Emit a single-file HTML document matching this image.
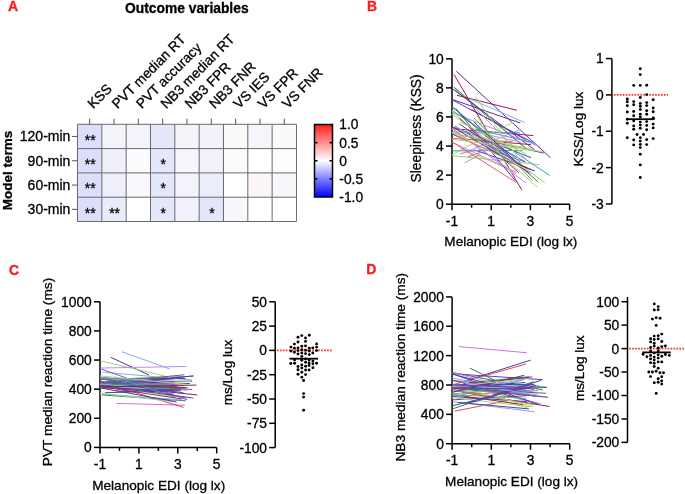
<!DOCTYPE html>
<html><head><meta charset="utf-8"><style>
html,body{margin:0;padding:0;background:#fff;width:685px;height:494px;overflow:hidden}
svg{display:block;will-change:transform;filter:blur(0.3px)}
text{font-family:"Liberation Sans", sans-serif}
</style></head><body>
<svg width="685" height="494" viewBox="0 0 685 494" font-family='"Liberation Sans", sans-serif'><text x="7.90" y="11.10" font-size="14" font-weight="bold" fill="#ff1a1a" stroke="#ff1a1a" stroke-width="0.3">A</text>
<text x="125.10" y="13.10" font-size="13.8" font-weight="bold" stroke="#000" stroke-width="0.3">Outcome variables</text>
<rect x="77.50" y="124.30" width="24.33" height="24.30" fill="#dcdff9"/>
<rect x="101.83" y="124.30" width="24.33" height="24.30" fill="#f4f4fb"/>
<rect x="126.16" y="124.30" width="24.33" height="24.30" fill="#f2f3fb"/>
<rect x="150.49" y="124.30" width="24.33" height="24.30" fill="#e6e8fa"/>
<rect x="174.82" y="124.30" width="24.33" height="24.30" fill="#f4f4fb"/>
<rect x="199.15" y="124.30" width="24.33" height="24.30" fill="#f1f2fb"/>
<rect x="223.48" y="124.30" width="24.33" height="24.30" fill="#fbf8f9"/>
<rect x="247.81" y="124.30" width="24.33" height="24.30" fill="#f5f5fb"/>
<rect x="272.14" y="124.30" width="24.33" height="24.30" fill="#fafafd"/>
<rect x="77.50" y="148.60" width="24.33" height="24.30" fill="#dcdff9"/>
<rect x="101.83" y="148.60" width="24.33" height="24.30" fill="#eff0fa"/>
<rect x="126.16" y="148.60" width="24.33" height="24.30" fill="#fcfcfe"/>
<rect x="150.49" y="148.60" width="24.33" height="24.30" fill="#e5e7fa"/>
<rect x="174.82" y="148.60" width="24.33" height="24.30" fill="#f5f5fb"/>
<rect x="199.15" y="148.60" width="24.33" height="24.30" fill="#f0f1fb"/>
<rect x="223.48" y="148.60" width="24.33" height="24.30" fill="#fdfafb"/>
<rect x="247.81" y="148.60" width="24.33" height="24.30" fill="#ffffff"/>
<rect x="272.14" y="148.60" width="24.33" height="24.30" fill="#fdfdfe"/>
<rect x="77.50" y="172.90" width="24.33" height="24.30" fill="#dcdff9"/>
<rect x="101.83" y="172.90" width="24.33" height="24.30" fill="#eeeffa"/>
<rect x="126.16" y="172.90" width="24.33" height="24.30" fill="#f9f9fd"/>
<rect x="150.49" y="172.90" width="24.33" height="24.30" fill="#e5e7fa"/>
<rect x="174.82" y="172.90" width="24.33" height="24.30" fill="#f3f3fb"/>
<rect x="199.15" y="172.90" width="24.33" height="24.30" fill="#ebedfa"/>
<rect x="223.48" y="172.90" width="24.33" height="24.30" fill="#ffffff"/>
<rect x="247.81" y="172.90" width="24.33" height="24.30" fill="#fcf6f7"/>
<rect x="272.14" y="172.90" width="24.33" height="24.30" fill="#f7f7fc"/>
<rect x="77.50" y="197.20" width="24.33" height="24.30" fill="#dcdff9"/>
<rect x="101.83" y="197.20" width="24.33" height="24.30" fill="#e9ebfa"/>
<rect x="126.16" y="197.20" width="24.33" height="24.30" fill="#ffffff"/>
<rect x="150.49" y="197.20" width="24.33" height="24.30" fill="#e5e7fa"/>
<rect x="174.82" y="197.20" width="24.33" height="24.30" fill="#f1f2fb"/>
<rect x="199.15" y="197.20" width="24.33" height="24.30" fill="#e4e6fa"/>
<rect x="223.48" y="197.20" width="24.33" height="24.30" fill="#f7f7fc"/>
<rect x="247.81" y="197.20" width="24.33" height="24.30" fill="#ffffff"/>
<rect x="272.14" y="197.20" width="24.33" height="24.30" fill="#ffffff"/>
<line x1="77.50" y1="124.30" x2="77.50" y2="221.50" stroke="#6a6a6a" stroke-width="1"/>
<line x1="101.83" y1="124.30" x2="101.83" y2="221.50" stroke="#6a6a6a" stroke-width="1"/>
<line x1="126.16" y1="124.30" x2="126.16" y2="221.50" stroke="#6a6a6a" stroke-width="1"/>
<line x1="150.49" y1="124.30" x2="150.49" y2="221.50" stroke="#6a6a6a" stroke-width="1"/>
<line x1="174.82" y1="124.30" x2="174.82" y2="221.50" stroke="#6a6a6a" stroke-width="1"/>
<line x1="199.15" y1="124.30" x2="199.15" y2="221.50" stroke="#6a6a6a" stroke-width="1"/>
<line x1="223.48" y1="124.30" x2="223.48" y2="221.50" stroke="#6a6a6a" stroke-width="1"/>
<line x1="247.81" y1="124.30" x2="247.81" y2="221.50" stroke="#6a6a6a" stroke-width="1"/>
<line x1="272.14" y1="124.30" x2="272.14" y2="221.50" stroke="#6a6a6a" stroke-width="1"/>
<line x1="296.47" y1="124.30" x2="296.47" y2="221.50" stroke="#6a6a6a" stroke-width="1"/>
<line x1="77.50" y1="124.30" x2="296.47" y2="124.30" stroke="#6a6a6a" stroke-width="1"/>
<line x1="77.50" y1="148.60" x2="296.47" y2="148.60" stroke="#6a6a6a" stroke-width="1"/>
<line x1="77.50" y1="172.90" x2="296.47" y2="172.90" stroke="#6a6a6a" stroke-width="1"/>
<line x1="77.50" y1="197.20" x2="296.47" y2="197.20" stroke="#6a6a6a" stroke-width="1"/>
<line x1="77.50" y1="221.50" x2="296.47" y2="221.50" stroke="#6a6a6a" stroke-width="1"/>
<text x="90.26" y="144.75" font-size="14" text-anchor="middle" stroke="#000" stroke-width="0.3">**</text>
<text x="90.26" y="169.05" font-size="14" text-anchor="middle" stroke="#000" stroke-width="0.3">**</text>
<text x="90.26" y="193.35" font-size="14" text-anchor="middle" stroke="#000" stroke-width="0.3">**</text>
<text x="90.26" y="217.65" font-size="14" text-anchor="middle" stroke="#000" stroke-width="0.3">**</text>
<text x="114.59" y="217.65" font-size="14" text-anchor="middle" stroke="#000" stroke-width="0.3">**</text>
<text x="163.25" y="169.05" font-size="14" text-anchor="middle" stroke="#000" stroke-width="0.3">*</text>
<text x="163.25" y="193.35" font-size="14" text-anchor="middle" stroke="#000" stroke-width="0.3">*</text>
<text x="163.25" y="217.65" font-size="14" text-anchor="middle" stroke="#000" stroke-width="0.3">*</text>
<text x="211.91" y="217.65" font-size="14" text-anchor="middle" stroke="#000" stroke-width="0.3">*</text>
<line x1="89.66" y1="118.60" x2="89.66" y2="124.30" stroke="#555" stroke-width="1"/>
<text x="93.16" y="109.20" font-size="13.8" stroke="#000" stroke-width="0.3" transform="rotate(-45 93.16 109.20)">KSS</text>
<line x1="114.00" y1="118.60" x2="114.00" y2="124.30" stroke="#555" stroke-width="1"/>
<text x="117.50" y="109.20" font-size="13.8" stroke="#000" stroke-width="0.3" transform="rotate(-45 117.50 109.20)">PVT median RT</text>
<line x1="138.32" y1="118.60" x2="138.32" y2="124.30" stroke="#555" stroke-width="1"/>
<text x="141.82" y="109.20" font-size="13.8" stroke="#000" stroke-width="0.3" transform="rotate(-45 141.82 109.20)">PVT accuracy</text>
<line x1="162.66" y1="118.60" x2="162.66" y2="124.30" stroke="#555" stroke-width="1"/>
<text x="166.16" y="109.20" font-size="13.8" stroke="#000" stroke-width="0.3" transform="rotate(-45 166.16 109.20)">NB3 median RT</text>
<line x1="186.98" y1="118.60" x2="186.98" y2="124.30" stroke="#555" stroke-width="1"/>
<text x="190.48" y="109.20" font-size="13.8" stroke="#000" stroke-width="0.3" transform="rotate(-45 190.48 109.20)">NB3 FPR</text>
<line x1="211.31" y1="118.60" x2="211.31" y2="124.30" stroke="#555" stroke-width="1"/>
<text x="214.81" y="109.20" font-size="13.8" stroke="#000" stroke-width="0.3" transform="rotate(-45 214.81 109.20)">NB3 FNR</text>
<line x1="235.64" y1="118.60" x2="235.64" y2="124.30" stroke="#555" stroke-width="1"/>
<text x="239.14" y="109.20" font-size="13.8" stroke="#000" stroke-width="0.3" transform="rotate(-45 239.14 109.20)">VS IES</text>
<line x1="259.98" y1="118.60" x2="259.98" y2="124.30" stroke="#555" stroke-width="1"/>
<text x="263.48" y="109.20" font-size="13.8" stroke="#000" stroke-width="0.3" transform="rotate(-45 263.48 109.20)">VS FPR</text>
<line x1="284.30" y1="118.60" x2="284.30" y2="124.30" stroke="#555" stroke-width="1"/>
<text x="287.80" y="109.20" font-size="13.8" stroke="#000" stroke-width="0.3" transform="rotate(-45 287.80 109.20)">VS FNR</text>
<line x1="71.90" y1="136.45" x2="77.50" y2="136.45" stroke="#555" stroke-width="1"/>
<text x="70.40" y="141.35" font-size="14" text-anchor="end" stroke="#000" stroke-width="0.3">120-min</text>
<line x1="71.90" y1="160.75" x2="77.50" y2="160.75" stroke="#555" stroke-width="1"/>
<text x="70.40" y="165.65" font-size="14" text-anchor="end" stroke="#000" stroke-width="0.3">90-min</text>
<line x1="71.90" y1="185.05" x2="77.50" y2="185.05" stroke="#555" stroke-width="1"/>
<text x="70.40" y="189.95" font-size="14" text-anchor="end" stroke="#000" stroke-width="0.3">60-min</text>
<line x1="71.90" y1="209.35" x2="77.50" y2="209.35" stroke="#555" stroke-width="1"/>
<text x="70.40" y="214.25" font-size="14" text-anchor="end" stroke="#000" stroke-width="0.3">30-min</text>
<text x="11.60" y="170.50" font-size="13.5" text-anchor="middle" font-weight="bold" stroke="#000" stroke-width="0.3" transform="rotate(-90 11.60 170.50)">Model terms</text>
<defs><linearGradient id="cb" x1="0" y1="0" x2="0" y2="1"><stop offset="0" stop-color="#ff1e1e"/><stop offset="0.5" stop-color="#ffffff"/><stop offset="1" stop-color="#0000ff"/></linearGradient></defs>
<rect x="314.50" y="124.50" width="18.00" height="72.50" fill="url(#cb)" stroke="#000" stroke-width="1.5"/>
<text x="339.30" y="129.40" font-size="13.8" stroke="#000" stroke-width="0.3">1.0</text>
<line x1="314.50" y1="142.62" x2="317.50" y2="142.62" stroke="#000" stroke-width="1.5"/>
<line x1="329.50" y1="142.62" x2="332.50" y2="142.62" stroke="#000" stroke-width="1.5"/>
<text x="339.30" y="147.53" font-size="13.8" stroke="#000" stroke-width="0.3">0.5</text>
<line x1="314.50" y1="160.75" x2="317.50" y2="160.75" stroke="#000" stroke-width="1.5"/>
<line x1="329.50" y1="160.75" x2="332.50" y2="160.75" stroke="#000" stroke-width="1.5"/>
<text x="339.30" y="165.65" font-size="13.8" stroke="#000" stroke-width="0.3">0</text>
<line x1="314.50" y1="178.88" x2="317.50" y2="178.88" stroke="#000" stroke-width="1.5"/>
<line x1="329.50" y1="178.88" x2="332.50" y2="178.88" stroke="#000" stroke-width="1.5"/>
<text x="339.30" y="183.78" font-size="13.8" stroke="#000" stroke-width="0.3">-0.5</text>
<text x="339.30" y="201.90" font-size="13.8" stroke="#000" stroke-width="0.3">-1.0</text>
<text x="367.00" y="11.10" font-size="14" font-weight="bold" fill="#ff1a1a" stroke="#ff1a1a" stroke-width="0.3">B</text>
<line x1="452.00" y1="58.80" x2="452.00" y2="204.20" stroke="#000" stroke-width="1.5"/>
<line x1="446.00" y1="204.20" x2="452.00" y2="204.20" stroke="#000" stroke-width="1.5"/>
<text x="443.80" y="209.10" font-size="13.8" text-anchor="end" stroke="#000" stroke-width="0.3">0</text>
<line x1="446.00" y1="175.12" x2="452.00" y2="175.12" stroke="#000" stroke-width="1.5"/>
<text x="443.80" y="180.02" font-size="13.8" text-anchor="end" stroke="#000" stroke-width="0.3">2</text>
<line x1="446.00" y1="146.04" x2="452.00" y2="146.04" stroke="#000" stroke-width="1.5"/>
<text x="443.80" y="150.94" font-size="13.8" text-anchor="end" stroke="#000" stroke-width="0.3">4</text>
<line x1="446.00" y1="116.96" x2="452.00" y2="116.96" stroke="#000" stroke-width="1.5"/>
<text x="443.80" y="121.86" font-size="13.8" text-anchor="end" stroke="#000" stroke-width="0.3">6</text>
<line x1="446.00" y1="87.88" x2="452.00" y2="87.88" stroke="#000" stroke-width="1.5"/>
<text x="443.80" y="92.78" font-size="13.8" text-anchor="end" stroke="#000" stroke-width="0.3">8</text>
<line x1="446.00" y1="58.80" x2="452.00" y2="58.80" stroke="#000" stroke-width="1.5"/>
<text x="443.80" y="63.70" font-size="13.8" text-anchor="end" stroke="#000" stroke-width="0.3">10</text>
<line x1="451.25" y1="204.20" x2="569.60" y2="204.20" stroke="#000" stroke-width="1.5"/>
<line x1="452.00" y1="204.20" x2="452.00" y2="210.20" stroke="#000" stroke-width="1.5"/>
<text x="452.00" y="226.00" font-size="13.8" text-anchor="middle" stroke="#000" stroke-width="0.3">-1</text>
<line x1="491.20" y1="204.20" x2="491.20" y2="210.20" stroke="#000" stroke-width="1.5"/>
<text x="491.20" y="226.00" font-size="13.8" text-anchor="middle" stroke="#000" stroke-width="0.3">1</text>
<line x1="530.40" y1="204.20" x2="530.40" y2="210.20" stroke="#000" stroke-width="1.5"/>
<text x="530.40" y="226.00" font-size="13.8" text-anchor="middle" stroke="#000" stroke-width="0.3">3</text>
<line x1="569.60" y1="204.20" x2="569.60" y2="210.20" stroke="#000" stroke-width="1.5"/>
<text x="569.60" y="226.00" font-size="13.8" text-anchor="middle" stroke="#000" stroke-width="0.3">5</text>
<line x1="471.60" y1="204.20" x2="471.60" y2="207.70" stroke="#000" stroke-width="1.5"/>
<line x1="510.80" y1="204.20" x2="510.80" y2="207.70" stroke="#000" stroke-width="1.5"/>
<line x1="550.00" y1="204.20" x2="550.00" y2="207.70" stroke="#000" stroke-width="1.5"/>
<text x="510.80" y="245.90" font-size="13.6" text-anchor="middle" stroke="#000" stroke-width="0.3">Melanopic EDI (log lx)</text>
<text x="421.50" y="128.40" font-size="13.8" text-anchor="middle" stroke="#000" stroke-width="0.3" transform="rotate(-90 421.50 128.40)">Sleepiness (KSS)</text>
<line x1="611.90" y1="58.55" x2="611.90" y2="203.95" stroke="#000" stroke-width="1.5"/>
<line x1="605.90" y1="58.55" x2="611.90" y2="58.55" stroke="#000" stroke-width="1.5"/>
<text x="603.70" y="63.45" font-size="13.8" text-anchor="end" stroke="#000" stroke-width="0.3">1</text>
<line x1="605.90" y1="94.90" x2="611.90" y2="94.90" stroke="#000" stroke-width="1.5"/>
<text x="603.70" y="99.80" font-size="13.8" text-anchor="end" stroke="#000" stroke-width="0.3">0</text>
<line x1="605.90" y1="131.25" x2="611.90" y2="131.25" stroke="#000" stroke-width="1.5"/>
<text x="603.70" y="136.15" font-size="13.8" text-anchor="end" stroke="#000" stroke-width="0.3">-1</text>
<line x1="605.90" y1="167.60" x2="611.90" y2="167.60" stroke="#000" stroke-width="1.5"/>
<text x="603.70" y="172.50" font-size="13.8" text-anchor="end" stroke="#000" stroke-width="0.3">-2</text>
<line x1="605.90" y1="203.95" x2="611.90" y2="203.95" stroke="#000" stroke-width="1.5"/>
<text x="603.70" y="208.85" font-size="13.8" text-anchor="end" stroke="#000" stroke-width="0.3">-3</text>
<text x="583.20" y="129.00" font-size="13.6" text-anchor="middle" stroke="#000" stroke-width="0.3" transform="rotate(-90 583.20 129.00)">KSS/Log lux</text>
<line x1="613.80" y1="94.90" x2="668.00" y2="94.90" stroke="#ff3030" stroke-width="1.9" stroke-dasharray="1.7 1.25"/>
<text x="9.00" y="274.60" font-size="14" font-weight="bold" fill="#ff1a1a" stroke="#ff1a1a" stroke-width="0.3">C</text>
<line x1="100.00" y1="301.80" x2="100.00" y2="447.40" stroke="#000" stroke-width="1.5"/>
<line x1="94.00" y1="447.40" x2="100.00" y2="447.40" stroke="#000" stroke-width="1.5"/>
<text x="91.80" y="452.30" font-size="13.8" text-anchor="end" stroke="#000" stroke-width="0.3">0</text>
<line x1="94.00" y1="418.28" x2="100.00" y2="418.28" stroke="#000" stroke-width="1.5"/>
<text x="91.80" y="423.18" font-size="13.8" text-anchor="end" stroke="#000" stroke-width="0.3">200</text>
<line x1="94.00" y1="389.16" x2="100.00" y2="389.16" stroke="#000" stroke-width="1.5"/>
<text x="91.80" y="394.06" font-size="13.8" text-anchor="end" stroke="#000" stroke-width="0.3">400</text>
<line x1="94.00" y1="360.04" x2="100.00" y2="360.04" stroke="#000" stroke-width="1.5"/>
<text x="91.80" y="364.94" font-size="13.8" text-anchor="end" stroke="#000" stroke-width="0.3">600</text>
<line x1="94.00" y1="330.92" x2="100.00" y2="330.92" stroke="#000" stroke-width="1.5"/>
<text x="91.80" y="335.82" font-size="13.8" text-anchor="end" stroke="#000" stroke-width="0.3">800</text>
<line x1="94.00" y1="301.80" x2="100.00" y2="301.80" stroke="#000" stroke-width="1.5"/>
<text x="91.80" y="306.70" font-size="13.8" text-anchor="end" stroke="#000" stroke-width="0.3">1000</text>
<line x1="99.25" y1="447.40" x2="216.70" y2="447.40" stroke="#000" stroke-width="1.5"/>
<line x1="100.00" y1="447.40" x2="100.00" y2="453.40" stroke="#000" stroke-width="1.5"/>
<text x="100.00" y="469.20" font-size="13.8" text-anchor="middle" stroke="#000" stroke-width="0.3">-1</text>
<line x1="138.90" y1="447.40" x2="138.90" y2="453.40" stroke="#000" stroke-width="1.5"/>
<text x="138.90" y="469.20" font-size="13.8" text-anchor="middle" stroke="#000" stroke-width="0.3">1</text>
<line x1="177.80" y1="447.40" x2="177.80" y2="453.40" stroke="#000" stroke-width="1.5"/>
<text x="177.80" y="469.20" font-size="13.8" text-anchor="middle" stroke="#000" stroke-width="0.3">3</text>
<line x1="216.70" y1="447.40" x2="216.70" y2="453.40" stroke="#000" stroke-width="1.5"/>
<text x="216.70" y="469.20" font-size="13.8" text-anchor="middle" stroke="#000" stroke-width="0.3">5</text>
<line x1="119.45" y1="447.40" x2="119.45" y2="450.90" stroke="#000" stroke-width="1.5"/>
<line x1="158.35" y1="447.40" x2="158.35" y2="450.90" stroke="#000" stroke-width="1.5"/>
<line x1="197.25" y1="447.40" x2="197.25" y2="450.90" stroke="#000" stroke-width="1.5"/>
<text x="158.70" y="490.00" font-size="13.6" text-anchor="middle" stroke="#000" stroke-width="0.3">Melanopic EDI (log lx)</text>
<text x="51.90" y="372.00" font-size="13.7" text-anchor="middle" stroke="#000" stroke-width="0.3" transform="rotate(-90 51.90 372.00)">PVT median reaction time (ms)</text>
<line x1="275.20" y1="301.80" x2="275.20" y2="447.60" stroke="#000" stroke-width="1.5"/>
<line x1="269.20" y1="301.80" x2="275.20" y2="301.80" stroke="#000" stroke-width="1.5"/>
<text x="267.00" y="306.70" font-size="13.8" text-anchor="end" stroke="#000" stroke-width="0.3">50</text>
<line x1="269.20" y1="326.10" x2="275.20" y2="326.10" stroke="#000" stroke-width="1.5"/>
<text x="267.00" y="331.00" font-size="13.8" text-anchor="end" stroke="#000" stroke-width="0.3">25</text>
<line x1="269.20" y1="350.40" x2="275.20" y2="350.40" stroke="#000" stroke-width="1.5"/>
<text x="267.00" y="355.30" font-size="13.8" text-anchor="end" stroke="#000" stroke-width="0.3">0</text>
<line x1="269.20" y1="374.70" x2="275.20" y2="374.70" stroke="#000" stroke-width="1.5"/>
<text x="267.00" y="379.60" font-size="13.8" text-anchor="end" stroke="#000" stroke-width="0.3">-25</text>
<line x1="269.20" y1="399.00" x2="275.20" y2="399.00" stroke="#000" stroke-width="1.5"/>
<text x="267.00" y="403.90" font-size="13.8" text-anchor="end" stroke="#000" stroke-width="0.3">-50</text>
<line x1="269.20" y1="423.30" x2="275.20" y2="423.30" stroke="#000" stroke-width="1.5"/>
<text x="267.00" y="428.20" font-size="13.8" text-anchor="end" stroke="#000" stroke-width="0.3">-75</text>
<line x1="269.20" y1="447.60" x2="275.20" y2="447.60" stroke="#000" stroke-width="1.5"/>
<text x="267.00" y="452.50" font-size="13.8" text-anchor="end" stroke="#000" stroke-width="0.3">-100</text>
<text x="232.20" y="372.50" font-size="13.6" text-anchor="middle" stroke="#000" stroke-width="0.3" transform="rotate(-90 232.20 372.50)">ms/Log lux</text>
<line x1="276.90" y1="350.40" x2="332.00" y2="350.40" stroke="#ff3030" stroke-width="1.9" stroke-dasharray="1.7 1.25"/>
<text x="366.30" y="273.90" font-size="14" font-weight="bold" fill="#ff1a1a" stroke="#ff1a1a" stroke-width="0.3">D</text>
<line x1="452.10" y1="296.90" x2="452.10" y2="443.70" stroke="#000" stroke-width="1.5"/>
<line x1="446.10" y1="443.70" x2="452.10" y2="443.70" stroke="#000" stroke-width="1.5"/>
<text x="443.90" y="448.60" font-size="13.8" text-anchor="end" stroke="#000" stroke-width="0.3">0</text>
<line x1="446.10" y1="414.34" x2="452.10" y2="414.34" stroke="#000" stroke-width="1.5"/>
<text x="443.90" y="419.24" font-size="13.8" text-anchor="end" stroke="#000" stroke-width="0.3">400</text>
<line x1="446.10" y1="384.98" x2="452.10" y2="384.98" stroke="#000" stroke-width="1.5"/>
<text x="443.90" y="389.88" font-size="13.8" text-anchor="end" stroke="#000" stroke-width="0.3">800</text>
<line x1="446.10" y1="355.62" x2="452.10" y2="355.62" stroke="#000" stroke-width="1.5"/>
<text x="443.90" y="360.52" font-size="13.8" text-anchor="end" stroke="#000" stroke-width="0.3">1200</text>
<line x1="446.10" y1="326.26" x2="452.10" y2="326.26" stroke="#000" stroke-width="1.5"/>
<text x="443.90" y="331.16" font-size="13.8" text-anchor="end" stroke="#000" stroke-width="0.3">1600</text>
<line x1="446.10" y1="296.90" x2="452.10" y2="296.90" stroke="#000" stroke-width="1.5"/>
<text x="443.90" y="301.80" font-size="13.8" text-anchor="end" stroke="#000" stroke-width="0.3">2000</text>
<line x1="451.35" y1="443.70" x2="569.70" y2="443.70" stroke="#000" stroke-width="1.5"/>
<line x1="452.10" y1="443.70" x2="452.10" y2="449.70" stroke="#000" stroke-width="1.5"/>
<text x="452.10" y="464.90" font-size="13.8" text-anchor="middle" stroke="#000" stroke-width="0.3">-1</text>
<line x1="491.30" y1="443.70" x2="491.30" y2="449.70" stroke="#000" stroke-width="1.5"/>
<text x="491.30" y="464.90" font-size="13.8" text-anchor="middle" stroke="#000" stroke-width="0.3">1</text>
<line x1="530.50" y1="443.70" x2="530.50" y2="449.70" stroke="#000" stroke-width="1.5"/>
<text x="530.50" y="464.90" font-size="13.8" text-anchor="middle" stroke="#000" stroke-width="0.3">3</text>
<line x1="569.70" y1="443.70" x2="569.70" y2="449.70" stroke="#000" stroke-width="1.5"/>
<text x="569.70" y="464.90" font-size="13.8" text-anchor="middle" stroke="#000" stroke-width="0.3">5</text>
<line x1="471.70" y1="443.70" x2="471.70" y2="447.20" stroke="#000" stroke-width="1.5"/>
<line x1="510.90" y1="443.70" x2="510.90" y2="447.20" stroke="#000" stroke-width="1.5"/>
<line x1="550.10" y1="443.70" x2="550.10" y2="447.20" stroke="#000" stroke-width="1.5"/>
<text x="511.60" y="486.20" font-size="13.6" text-anchor="middle" stroke="#000" stroke-width="0.3">Melanopic EDI (log lx)</text>
<text x="404.90" y="367.20" font-size="13.7" text-anchor="middle" stroke="#000" stroke-width="0.3" transform="rotate(-90 404.90 367.20)">NB3 median reaction time (ms)</text>
<line x1="627.50" y1="297.01" x2="627.50" y2="442.40" stroke="#000" stroke-width="1.5"/>
<line x1="621.50" y1="301.70" x2="627.50" y2="301.70" stroke="#000" stroke-width="1.5"/>
<text x="619.30" y="306.60" font-size="13.8" text-anchor="end" stroke="#000" stroke-width="0.3">100</text>
<line x1="621.50" y1="325.15" x2="627.50" y2="325.15" stroke="#000" stroke-width="1.5"/>
<text x="619.30" y="330.05" font-size="13.8" text-anchor="end" stroke="#000" stroke-width="0.3">50</text>
<line x1="621.50" y1="348.60" x2="627.50" y2="348.60" stroke="#000" stroke-width="1.5"/>
<text x="619.30" y="353.50" font-size="13.8" text-anchor="end" stroke="#000" stroke-width="0.3">0</text>
<line x1="621.50" y1="372.05" x2="627.50" y2="372.05" stroke="#000" stroke-width="1.5"/>
<text x="619.30" y="376.95" font-size="13.8" text-anchor="end" stroke="#000" stroke-width="0.3">-50</text>
<line x1="621.50" y1="395.50" x2="627.50" y2="395.50" stroke="#000" stroke-width="1.5"/>
<text x="619.30" y="400.40" font-size="13.8" text-anchor="end" stroke="#000" stroke-width="0.3">-100</text>
<line x1="621.50" y1="418.95" x2="627.50" y2="418.95" stroke="#000" stroke-width="1.5"/>
<text x="619.30" y="423.85" font-size="13.8" text-anchor="end" stroke="#000" stroke-width="0.3">-150</text>
<line x1="621.50" y1="442.40" x2="627.50" y2="442.40" stroke="#000" stroke-width="1.5"/>
<text x="619.30" y="447.30" font-size="13.8" text-anchor="end" stroke="#000" stroke-width="0.3">-200</text>
<text x="584.20" y="368.20" font-size="13.6" text-anchor="middle" stroke="#000" stroke-width="0.3" transform="rotate(-90 584.20 368.20)">ms/Log lux</text>
<line x1="629.20" y1="348.60" x2="685.00" y2="348.60" stroke="#ff3030" stroke-width="1.9" stroke-dasharray="1.7 1.25"/>
<line x1="456.31" y1="71.16" x2="550.39" y2="157.67" stroke="#5b2c9f" stroke-width="1.0"/>
<line x1="453.96" y1="74.36" x2="521.78" y2="189.95" stroke="#9a1b4b" stroke-width="1.0"/>
<line x1="453.96" y1="87.15" x2="528.05" y2="149.97" stroke="#2f7d5b" stroke-width="1.0"/>
<line x1="454.94" y1="89.33" x2="524.52" y2="147.49" stroke="#6aa84f" stroke-width="1.0"/>
<line x1="452.00" y1="88.46" x2="534.91" y2="149.97" stroke="#5b2c9f" stroke-width="1.0"/>
<line x1="456.90" y1="95.30" x2="516.88" y2="110.27" stroke="#9a1b4b" stroke-width="1.0"/>
<line x1="452.00" y1="99.37" x2="520.40" y2="123.07" stroke="#5b2c9f" stroke-width="1.0"/>
<line x1="470.03" y1="98.93" x2="524.72" y2="122.49" stroke="#7fb0e0" stroke-width="1.0"/>
<line x1="452.39" y1="128.74" x2="533.34" y2="135.57" stroke="#9a1b4b" stroke-width="1.0"/>
<line x1="452.39" y1="131.94" x2="520.01" y2="132.81" stroke="#3a9cb8" stroke-width="1.0"/>
<line x1="452.39" y1="155.64" x2="539.61" y2="164.65" stroke="#9fd26b" stroke-width="1.0"/>
<line x1="464.54" y1="162.91" x2="480.42" y2="154.33" stroke="#7fb0e0" stroke-width="1.0"/>
<line x1="468.27" y1="156.80" x2="480.42" y2="152.44" stroke="#e04a5a" stroke-width="1.0"/>
<line x1="452.00" y1="112.60" x2="540.00" y2="146.77" stroke="#b48ef0" stroke-width="1.0"/>
<line x1="452.00" y1="110.27" x2="549.61" y2="175.41" stroke="#3a9cb8" stroke-width="1.0"/>
<line x1="452.00" y1="114.05" x2="544.71" y2="182.68" stroke="#9fd26b" stroke-width="1.0"/>
<line x1="452.00" y1="111.14" x2="537.06" y2="187.04" stroke="#9fd26b" stroke-width="1.0"/>
<line x1="452.00" y1="128.59" x2="525.70" y2="182.68" stroke="#b48ef0" stroke-width="1.0"/>
<line x1="454.66" y1="127.62" x2="530.79" y2="157.60" stroke="#404aa0" stroke-width="1.0"/>
<line x1="452.00" y1="133.04" x2="544.05" y2="153.14" stroke="#6a3bb5" stroke-width="1.0"/>
<line x1="463.83" y1="116.11" x2="530.85" y2="174.79" stroke="#e080f0" stroke-width="1.0"/>
<line x1="460.31" y1="148.44" x2="516.28" y2="172.21" stroke="#a6d96a" stroke-width="1.0"/>
<line x1="452.00" y1="99.69" x2="534.26" y2="143.34" stroke="#6a3bb5" stroke-width="1.0"/>
<line x1="452.00" y1="106.88" x2="520.79" y2="162.47" stroke="#40a0b5" stroke-width="1.0"/>
<line x1="468.12" y1="139.35" x2="531.09" y2="144.62" stroke="#a0285a" stroke-width="1.0"/>
<line x1="458.98" y1="123.70" x2="523.06" y2="166.86" stroke="#404aa0" stroke-width="1.0"/>
<line x1="452.00" y1="142.08" x2="515.56" y2="172.04" stroke="#e080f0" stroke-width="1.0"/>
<line x1="460.86" y1="153.99" x2="520.22" y2="129.40" stroke="#b890f0" stroke-width="1.0"/>
<line x1="455.72" y1="108.47" x2="515.14" y2="180.50" stroke="#404aa0" stroke-width="1.0"/>
<line x1="475.13" y1="129.15" x2="535.09" y2="142.98" stroke="#40a0b5" stroke-width="1.0"/>
<line x1="475.48" y1="144.88" x2="525.77" y2="162.23" stroke="#40a0b5" stroke-width="1.0"/>
<line x1="452.00" y1="154.67" x2="516.47" y2="120.33" stroke="#a6d96a" stroke-width="1.0"/>
<line x1="474.65" y1="149.93" x2="534.84" y2="170.93" stroke="#5a2ea8" stroke-width="1.0"/>
<line x1="452.00" y1="106.46" x2="538.31" y2="182.02" stroke="#3a7d5c" stroke-width="1.0"/>
<line x1="466.06" y1="133.34" x2="524.62" y2="149.00" stroke="#a6d96a" stroke-width="1.0"/>
<line x1="459.98" y1="153.67" x2="510.27" y2="143.92" stroke="#e080f0" stroke-width="1.0"/>
<line x1="471.69" y1="109.68" x2="525.52" y2="139.56" stroke="#5a2ea8" stroke-width="1.0"/>
<line x1="452.00" y1="150.89" x2="522.53" y2="150.46" stroke="#40a0b5" stroke-width="1.0"/>
<line x1="471.71" y1="131.31" x2="521.13" y2="142.20" stroke="#e080f0" stroke-width="1.0"/>
<line x1="452.00" y1="133.90" x2="531.23" y2="169.64" stroke="#8c2050" stroke-width="1.0"/>
<line x1="473.76" y1="117.56" x2="532.19" y2="180.41" stroke="#70b050" stroke-width="1.0"/>
<line x1="452.00" y1="138.51" x2="512.53" y2="141.72" stroke="#e65a64" stroke-width="1.0"/>
<line x1="459.54" y1="118.25" x2="518.83" y2="172.82" stroke="#a0285a" stroke-width="1.0"/>
<line x1="452.00" y1="128.55" x2="515.77" y2="173.84" stroke="#e080f0" stroke-width="1.0"/>
<line x1="452.00" y1="126.50" x2="528.83" y2="172.29" stroke="#8c2050" stroke-width="1.0"/>
<line x1="454.81" y1="126.02" x2="522.03" y2="164.98" stroke="#9050d0" stroke-width="1.0"/>
<line x1="476.23" y1="109.08" x2="529.41" y2="162.80" stroke="#b890f0" stroke-width="1.0"/>
<line x1="452.00" y1="139.19" x2="542.45" y2="151.56" stroke="#a6d96a" stroke-width="1.0"/>
<line x1="452.00" y1="133.13" x2="534.67" y2="149.67" stroke="#a6d96a" stroke-width="1.0"/>
<line x1="472.56" y1="133.04" x2="524.91" y2="161.56" stroke="#6a3bb5" stroke-width="1.0"/>
<line x1="452.00" y1="141.82" x2="516.04" y2="182.33" stroke="#e65a64" stroke-width="1.0"/>
<line x1="477.01" y1="115.43" x2="511.69" y2="173.88" stroke="#a6d96a" stroke-width="1.0"/>
<line x1="460.00" y1="122.05" x2="527.06" y2="154.35" stroke="#a6d96a" stroke-width="1.0"/>
<line x1="473.87" y1="121.91" x2="516.93" y2="162.52" stroke="#5a2ea8" stroke-width="1.0"/>
<line x1="455.75" y1="126.59" x2="531.56" y2="173.31" stroke="#80b4e6" stroke-width="1.0"/>
<line x1="475.35" y1="96.62" x2="518.98" y2="158.94" stroke="#a6d96a" stroke-width="1.0"/>
<line x1="452.00" y1="132.28" x2="527.45" y2="169.85" stroke="#a6d96a" stroke-width="1.0"/>
<line x1="121.98" y1="351.74" x2="170.02" y2="368.98" stroke="#7fb0e0" stroke-width="1.0"/>
<line x1="110.70" y1="357.27" x2="149.01" y2="375.04" stroke="#5b2c9f" stroke-width="1.0"/>
<line x1="100.39" y1="360.77" x2="164.57" y2="375.97" stroke="#9fd26b" stroke-width="1.0"/>
<line x1="100.39" y1="368.05" x2="186.36" y2="366.45" stroke="#b48ef0" stroke-width="1.0"/>
<line x1="102.72" y1="372.12" x2="191.80" y2="379.99" stroke="#7fb0e0" stroke-width="1.0"/>
<line x1="116.73" y1="403.43" x2="184.80" y2="405.18" stroke="#d56be6" stroke-width="1.0"/>
<line x1="131.12" y1="391.34" x2="183.63" y2="407.36" stroke="#e04a5a" stroke-width="1.0"/>
<line x1="101.94" y1="394.98" x2="185.58" y2="400.81" stroke="#2f7d5b" stroke-width="1.0"/>
<line x1="100.00" y1="384.79" x2="197.25" y2="394.98" stroke="#9a1b4b" stroke-width="1.0"/>
<line x1="100.00" y1="378.97" x2="192.00" y2="389.60" stroke="#8a3fc8" stroke-width="1.0"/>
<line x1="120.96" y1="387.04" x2="176.89" y2="386.13" stroke="#40a0b5" stroke-width="1.0"/>
<line x1="100.00" y1="381.48" x2="177.68" y2="390.15" stroke="#6a3bb5" stroke-width="1.0"/>
<line x1="100.00" y1="378.88" x2="185.44" y2="378.49" stroke="#404aa0" stroke-width="1.0"/>
<line x1="100.00" y1="382.03" x2="177.31" y2="387.09" stroke="#8c2050" stroke-width="1.0"/>
<line x1="100.00" y1="385.10" x2="173.49" y2="394.10" stroke="#9050d0" stroke-width="1.0"/>
<line x1="101.38" y1="369.02" x2="187.48" y2="399.98" stroke="#9050d0" stroke-width="1.0"/>
<line x1="122.32" y1="381.50" x2="171.49" y2="388.92" stroke="#b890f0" stroke-width="1.0"/>
<line x1="122.04" y1="389.39" x2="177.97" y2="390.17" stroke="#5a2ea8" stroke-width="1.0"/>
<line x1="100.00" y1="378.18" x2="186.44" y2="398.22" stroke="#9050d0" stroke-width="1.0"/>
<line x1="101.79" y1="379.47" x2="193.27" y2="376.30" stroke="#9050d0" stroke-width="1.0"/>
<line x1="108.58" y1="381.26" x2="192.19" y2="381.19" stroke="#6a3bb5" stroke-width="1.0"/>
<line x1="100.00" y1="388.56" x2="184.94" y2="388.69" stroke="#40a0b5" stroke-width="1.0"/>
<line x1="102.78" y1="383.02" x2="183.12" y2="377.45" stroke="#9050d0" stroke-width="1.0"/>
<line x1="111.16" y1="385.27" x2="179.65" y2="377.25" stroke="#a0285a" stroke-width="1.0"/>
<line x1="115.25" y1="386.75" x2="187.87" y2="390.11" stroke="#40a0b5" stroke-width="1.0"/>
<line x1="118.60" y1="380.65" x2="170.99" y2="388.44" stroke="#40a0b5" stroke-width="1.0"/>
<line x1="100.00" y1="387.68" x2="168.74" y2="386.35" stroke="#80b4e6" stroke-width="1.0"/>
<line x1="111.12" y1="382.77" x2="180.97" y2="389.50" stroke="#70b050" stroke-width="1.0"/>
<line x1="100.00" y1="387.54" x2="176.70" y2="390.02" stroke="#a6d96a" stroke-width="1.0"/>
<line x1="112.87" y1="382.40" x2="173.60" y2="378.48" stroke="#8c2050" stroke-width="1.0"/>
<line x1="105.00" y1="392.72" x2="181.04" y2="390.79" stroke="#3a4a9a" stroke-width="1.0"/>
<line x1="100.00" y1="385.29" x2="187.43" y2="387.44" stroke="#9050d0" stroke-width="1.0"/>
<line x1="115.82" y1="391.19" x2="186.73" y2="388.95" stroke="#e65a64" stroke-width="1.0"/>
<line x1="100.00" y1="386.37" x2="176.27" y2="378.61" stroke="#9050d0" stroke-width="1.0"/>
<line x1="100.00" y1="377.01" x2="184.02" y2="385.62" stroke="#40a0b5" stroke-width="1.0"/>
<line x1="122.37" y1="391.80" x2="181.54" y2="388.93" stroke="#3a4a9a" stroke-width="1.0"/>
<line x1="105.42" y1="381.26" x2="178.37" y2="388.62" stroke="#3a7d5c" stroke-width="1.0"/>
<line x1="117.31" y1="388.75" x2="173.35" y2="390.30" stroke="#3a4a9a" stroke-width="1.0"/>
<line x1="110.38" y1="383.06" x2="183.59" y2="392.87" stroke="#6a3bb5" stroke-width="1.0"/>
<line x1="100.00" y1="393.71" x2="182.84" y2="400.03" stroke="#80b4e6" stroke-width="1.0"/>
<line x1="100.00" y1="385.80" x2="184.94" y2="387.51" stroke="#8c2050" stroke-width="1.0"/>
<line x1="104.68" y1="385.90" x2="190.83" y2="381.59" stroke="#a6d96a" stroke-width="1.0"/>
<line x1="100.00" y1="383.89" x2="173.66" y2="382.01" stroke="#5a2ea8" stroke-width="1.0"/>
<line x1="100.00" y1="382.85" x2="184.42" y2="374.78" stroke="#3a7d5c" stroke-width="1.0"/>
<line x1="100.00" y1="384.31" x2="175.32" y2="396.95" stroke="#a6d96a" stroke-width="1.0"/>
<line x1="120.12" y1="384.64" x2="189.90" y2="383.51" stroke="#6a3bb5" stroke-width="1.0"/>
<line x1="100.00" y1="386.71" x2="167.33" y2="391.64" stroke="#6a3bb5" stroke-width="1.0"/>
<line x1="100.00" y1="386.42" x2="193.57" y2="375.75" stroke="#404aa0" stroke-width="1.0"/>
<line x1="119.28" y1="380.88" x2="179.60" y2="385.85" stroke="#9050d0" stroke-width="1.0"/>
<line x1="100.00" y1="393.17" x2="172.86" y2="401.64" stroke="#a6d96a" stroke-width="1.0"/>
<line x1="114.30" y1="376.88" x2="175.91" y2="397.38" stroke="#40a0b5" stroke-width="1.0"/>
<line x1="100.00" y1="385.42" x2="193.24" y2="398.05" stroke="#404aa0" stroke-width="1.0"/>
<line x1="100.00" y1="387.81" x2="176.59" y2="401.90" stroke="#5a2ea8" stroke-width="1.0"/>
<line x1="100.00" y1="384.02" x2="167.60" y2="384.38" stroke="#40a0b5" stroke-width="1.0"/>
<line x1="101.27" y1="386.78" x2="181.81" y2="398.94" stroke="#a0285a" stroke-width="1.0"/>
<line x1="100.00" y1="386.90" x2="196.51" y2="385.05" stroke="#8c2050" stroke-width="1.0"/>
<line x1="100.00" y1="375.86" x2="189.80" y2="384.78" stroke="#a6d96a" stroke-width="1.0"/>
<line x1="458.96" y1="346.59" x2="526.78" y2="352.76" stroke="#d56be6" stroke-width="1.0"/>
<line x1="461.90" y1="382.04" x2="530.70" y2="360.10" stroke="#3c3f9e" stroke-width="1.0"/>
<line x1="452.10" y1="384.98" x2="525.99" y2="364.06" stroke="#e04a5a" stroke-width="1.0"/>
<line x1="454.65" y1="411.18" x2="508.94" y2="400.39" stroke="#e04a5a" stroke-width="1.0"/>
<line x1="453.28" y1="401.72" x2="534.62" y2="411.77" stroke="#b48ef0" stroke-width="1.0"/>
<line x1="461.90" y1="392.32" x2="549.51" y2="406.49" stroke="#9a1b4b" stroke-width="1.0"/>
<line x1="452.10" y1="387.92" x2="548.14" y2="397.31" stroke="#5b2c9f" stroke-width="1.0"/>
<line x1="452.10" y1="380.58" x2="546.38" y2="387.11" stroke="#3a9cb8" stroke-width="1.0"/>
<line x1="469.74" y1="368.10" x2="522.66" y2="393.79" stroke="#2f7d5b" stroke-width="1.0"/>
<line x1="452.10" y1="384.77" x2="534.52" y2="384.37" stroke="#5a2ea8" stroke-width="1.0"/>
<line x1="452.10" y1="379.97" x2="540.03" y2="403.98" stroke="#8c2050" stroke-width="1.0"/>
<line x1="469.52" y1="382.79" x2="529.32" y2="376.68" stroke="#3a7d5c" stroke-width="1.0"/>
<line x1="452.10" y1="386.22" x2="532.29" y2="376.94" stroke="#8c2050" stroke-width="1.0"/>
<line x1="452.10" y1="391.50" x2="547.06" y2="387.41" stroke="#3a7d5c" stroke-width="1.0"/>
<line x1="452.10" y1="373.94" x2="535.45" y2="396.37" stroke="#5a2ea8" stroke-width="1.0"/>
<line x1="452.10" y1="388.15" x2="523.09" y2="393.99" stroke="#3a7d5c" stroke-width="1.0"/>
<line x1="475.46" y1="388.32" x2="541.24" y2="386.96" stroke="#9050d0" stroke-width="1.0"/>
<line x1="452.10" y1="377.96" x2="533.18" y2="393.11" stroke="#80b4e6" stroke-width="1.0"/>
<line x1="464.21" y1="389.81" x2="527.44" y2="407.73" stroke="#a6d96a" stroke-width="1.0"/>
<line x1="452.10" y1="372.42" x2="542.87" y2="389.96" stroke="#3a7d5c" stroke-width="1.0"/>
<line x1="452.10" y1="387.28" x2="531.94" y2="385.62" stroke="#40a0b5" stroke-width="1.0"/>
<line x1="459.36" y1="381.74" x2="532.23" y2="395.82" stroke="#9050d0" stroke-width="1.0"/>
<line x1="461.66" y1="382.07" x2="527.80" y2="394.43" stroke="#b890f0" stroke-width="1.0"/>
<line x1="452.10" y1="383.93" x2="541.53" y2="404.07" stroke="#80b4e6" stroke-width="1.0"/>
<line x1="452.10" y1="393.83" x2="516.55" y2="389.15" stroke="#70b050" stroke-width="1.0"/>
<line x1="468.64" y1="382.33" x2="534.22" y2="389.29" stroke="#a0285a" stroke-width="1.0"/>
<line x1="452.10" y1="373.74" x2="542.85" y2="379.69" stroke="#6a3bb5" stroke-width="1.0"/>
<line x1="452.10" y1="409.04" x2="533.61" y2="381.70" stroke="#3a7d5c" stroke-width="1.0"/>
<line x1="452.10" y1="387.06" x2="539.24" y2="385.67" stroke="#80b4e6" stroke-width="1.0"/>
<line x1="452.10" y1="396.48" x2="527.06" y2="401.57" stroke="#3a4a9a" stroke-width="1.0"/>
<line x1="452.10" y1="373.71" x2="537.79" y2="404.37" stroke="#404aa0" stroke-width="1.0"/>
<line x1="472.54" y1="394.07" x2="537.93" y2="390.57" stroke="#e65a64" stroke-width="1.0"/>
<line x1="452.10" y1="392.24" x2="531.92" y2="377.46" stroke="#b890f0" stroke-width="1.0"/>
<line x1="452.10" y1="389.62" x2="533.79" y2="404.42" stroke="#e65a64" stroke-width="1.0"/>
<line x1="460.84" y1="387.82" x2="540.85" y2="396.32" stroke="#9050d0" stroke-width="1.0"/>
<line x1="452.10" y1="394.50" x2="523.46" y2="404.70" stroke="#8c2050" stroke-width="1.0"/>
<line x1="452.10" y1="399.90" x2="527.03" y2="395.65" stroke="#6a3bb5" stroke-width="1.0"/>
<line x1="454.99" y1="373.47" x2="537.13" y2="393.28" stroke="#e080f0" stroke-width="1.0"/>
<line x1="452.10" y1="394.71" x2="526.24" y2="398.20" stroke="#70b050" stroke-width="1.0"/>
<line x1="452.10" y1="388.18" x2="546.11" y2="393.28" stroke="#3a7d5c" stroke-width="1.0"/>
<line x1="456.91" y1="396.12" x2="524.45" y2="379.51" stroke="#40a0b5" stroke-width="1.0"/>
<line x1="468.01" y1="402.86" x2="541.04" y2="380.35" stroke="#3a4a9a" stroke-width="1.0"/>
<line x1="452.10" y1="388.18" x2="525.35" y2="382.51" stroke="#3a4a9a" stroke-width="1.0"/>
<line x1="452.10" y1="386.13" x2="532.74" y2="391.02" stroke="#40a0b5" stroke-width="1.0"/>
<line x1="452.10" y1="385.73" x2="533.41" y2="406.77" stroke="#a6d96a" stroke-width="1.0"/>
<line x1="452.10" y1="397.59" x2="530.25" y2="406.70" stroke="#a6d96a" stroke-width="1.0"/>
<line x1="454.36" y1="387.74" x2="526.64" y2="389.07" stroke="#a0285a" stroke-width="1.0"/>
<line x1="452.10" y1="405.85" x2="536.11" y2="385.46" stroke="#3a4a9a" stroke-width="1.0"/>
<line x1="457.57" y1="402.41" x2="529.04" y2="408.92" stroke="#3a4a9a" stroke-width="1.0"/>
<line x1="452.10" y1="392.33" x2="524.24" y2="375.34" stroke="#5a2ea8" stroke-width="1.0"/>
<line x1="474.40" y1="401.97" x2="532.03" y2="384.07" stroke="#6a3bb5" stroke-width="1.0"/>
<line x1="465.94" y1="383.88" x2="538.03" y2="395.22" stroke="#80b4e6" stroke-width="1.0"/>
<line x1="452.10" y1="384.83" x2="522.09" y2="387.35" stroke="#6a3bb5" stroke-width="1.0"/>
<line x1="471.15" y1="384.42" x2="522.64" y2="379.28" stroke="#a6d96a" stroke-width="1.0"/>
<line x1="452.10" y1="389.02" x2="530.55" y2="388.27" stroke="#6a3bb5" stroke-width="1.0"/>
<circle cx="640.30" cy="68.80" r="1.45" fill="#000"/>
<circle cx="640.30" cy="74.60" r="1.45" fill="#000"/>
<circle cx="633.70" cy="85.40" r="1.45" fill="#000"/>
<circle cx="640.30" cy="85.40" r="1.45" fill="#000"/>
<circle cx="646.70" cy="85.20" r="1.45" fill="#000"/>
<circle cx="646.70" cy="94.60" r="1.45" fill="#000"/>
<circle cx="640.30" cy="97.50" r="1.45" fill="#000"/>
<circle cx="627.30" cy="99.00" r="1.45" fill="#000"/>
<circle cx="627.30" cy="101.70" r="1.45" fill="#000"/>
<circle cx="627.30" cy="105.70" r="1.45" fill="#000"/>
<circle cx="627.30" cy="112.00" r="1.45" fill="#000"/>
<circle cx="633.70" cy="101.60" r="1.45" fill="#000"/>
<circle cx="633.70" cy="104.70" r="1.45" fill="#000"/>
<circle cx="633.70" cy="111.50" r="1.45" fill="#000"/>
<circle cx="633.70" cy="115.70" r="1.45" fill="#000"/>
<circle cx="640.30" cy="103.40" r="1.45" fill="#000"/>
<circle cx="640.30" cy="106.20" r="1.45" fill="#000"/>
<circle cx="640.30" cy="109.50" r="1.45" fill="#000"/>
<circle cx="640.30" cy="114.20" r="1.45" fill="#000"/>
<circle cx="640.30" cy="117.00" r="1.45" fill="#000"/>
<circle cx="646.70" cy="102.60" r="1.45" fill="#000"/>
<circle cx="646.70" cy="105.60" r="1.45" fill="#000"/>
<circle cx="646.70" cy="110.80" r="1.45" fill="#000"/>
<circle cx="646.70" cy="114.20" r="1.45" fill="#000"/>
<circle cx="653.20" cy="99.70" r="1.45" fill="#000"/>
<circle cx="653.20" cy="108.00" r="1.45" fill="#000"/>
<circle cx="653.20" cy="111.80" r="1.45" fill="#000"/>
<circle cx="653.20" cy="118.00" r="1.45" fill="#000"/>
<circle cx="627.30" cy="119.30" r="1.45" fill="#000"/>
<circle cx="653.20" cy="118.50" r="1.45" fill="#000"/>
<circle cx="627.30" cy="123.30" r="1.45" fill="#000"/>
<circle cx="633.70" cy="120.90" r="1.45" fill="#000"/>
<circle cx="633.70" cy="125.90" r="1.45" fill="#000"/>
<circle cx="633.70" cy="129.20" r="1.45" fill="#000"/>
<circle cx="640.30" cy="122.10" r="1.45" fill="#000"/>
<circle cx="640.30" cy="125.10" r="1.45" fill="#000"/>
<circle cx="640.30" cy="128.20" r="1.45" fill="#000"/>
<circle cx="646.70" cy="121.60" r="1.45" fill="#000"/>
<circle cx="646.70" cy="125.40" r="1.45" fill="#000"/>
<circle cx="646.70" cy="129.70" r="1.45" fill="#000"/>
<circle cx="653.20" cy="124.10" r="1.45" fill="#000"/>
<circle cx="653.20" cy="127.90" r="1.45" fill="#000"/>
<circle cx="637.10" cy="134.50" r="1.45" fill="#000"/>
<circle cx="643.50" cy="134.50" r="1.45" fill="#000"/>
<circle cx="627.30" cy="137.80" r="1.45" fill="#000"/>
<circle cx="653.20" cy="138.60" r="1.45" fill="#000"/>
<circle cx="640.30" cy="137.80" r="1.45" fill="#000"/>
<circle cx="633.70" cy="140.00" r="1.45" fill="#000"/>
<circle cx="646.70" cy="139.60" r="1.45" fill="#000"/>
<circle cx="640.30" cy="141.10" r="1.45" fill="#000"/>
<circle cx="640.30" cy="144.40" r="1.45" fill="#000"/>
<circle cx="640.30" cy="147.60" r="1.45" fill="#000"/>
<circle cx="633.70" cy="144.90" r="1.45" fill="#000"/>
<circle cx="646.70" cy="144.60" r="1.45" fill="#000"/>
<circle cx="640.30" cy="154.30" r="1.45" fill="#000"/>
<circle cx="640.30" cy="164.90" r="1.45" fill="#000"/>
<circle cx="640.30" cy="177.50" r="1.45" fill="#000"/>
<circle cx="298.00" cy="337.20" r="1.45" fill="#000"/>
<circle cx="301.80" cy="335.60" r="1.45" fill="#000"/>
<circle cx="309.30" cy="335.20" r="1.45" fill="#000"/>
<circle cx="305.50" cy="338.00" r="1.45" fill="#000"/>
<circle cx="305.50" cy="341.40" r="1.45" fill="#000"/>
<circle cx="298.00" cy="342.00" r="1.45" fill="#000"/>
<circle cx="294.40" cy="344.10" r="1.45" fill="#000"/>
<circle cx="316.60" cy="343.90" r="1.45" fill="#000"/>
<circle cx="316.60" cy="347.10" r="1.45" fill="#000"/>
<circle cx="316.60" cy="350.60" r="1.45" fill="#000"/>
<circle cx="290.90" cy="347.10" r="1.45" fill="#000"/>
<circle cx="294.40" cy="348.30" r="1.45" fill="#000"/>
<circle cx="298.00" cy="347.90" r="1.45" fill="#000"/>
<circle cx="301.80" cy="346.30" r="1.45" fill="#000"/>
<circle cx="305.50" cy="345.90" r="1.45" fill="#000"/>
<circle cx="309.30" cy="348.30" r="1.45" fill="#000"/>
<circle cx="312.80" cy="347.90" r="1.45" fill="#000"/>
<circle cx="290.90" cy="351.10" r="1.45" fill="#000"/>
<circle cx="294.40" cy="352.20" r="1.45" fill="#000"/>
<circle cx="298.00" cy="350.60" r="1.45" fill="#000"/>
<circle cx="301.80" cy="349.80" r="1.45" fill="#000"/>
<circle cx="305.50" cy="350.30" r="1.45" fill="#000"/>
<circle cx="309.30" cy="351.10" r="1.45" fill="#000"/>
<circle cx="312.80" cy="353.00" r="1.45" fill="#000"/>
<circle cx="298.00" cy="354.00" r="1.45" fill="#000"/>
<circle cx="301.80" cy="353.00" r="1.45" fill="#000"/>
<circle cx="305.50" cy="353.60" r="1.45" fill="#000"/>
<circle cx="309.30" cy="354.60" r="1.45" fill="#000"/>
<circle cx="301.80" cy="356.40" r="1.45" fill="#000"/>
<circle cx="294.60" cy="359.90" r="1.45" fill="#000"/>
<circle cx="301.80" cy="360.30" r="1.45" fill="#000"/>
<circle cx="305.60" cy="358.90" r="1.45" fill="#000"/>
<circle cx="309.10" cy="360.00" r="1.45" fill="#000"/>
<circle cx="312.90" cy="361.10" r="1.45" fill="#000"/>
<circle cx="290.80" cy="363.50" r="1.45" fill="#000"/>
<circle cx="294.60" cy="363.30" r="1.45" fill="#000"/>
<circle cx="305.60" cy="362.30" r="1.45" fill="#000"/>
<circle cx="309.10" cy="362.90" r="1.45" fill="#000"/>
<circle cx="312.90" cy="363.70" r="1.45" fill="#000"/>
<circle cx="316.60" cy="363.30" r="1.45" fill="#000"/>
<circle cx="301.80" cy="364.90" r="1.45" fill="#000"/>
<circle cx="309.10" cy="365.50" r="1.45" fill="#000"/>
<circle cx="298.00" cy="366.50" r="1.45" fill="#000"/>
<circle cx="305.60" cy="366.30" r="1.45" fill="#000"/>
<circle cx="301.80" cy="368.00" r="1.45" fill="#000"/>
<circle cx="312.90" cy="367.80" r="1.45" fill="#000"/>
<circle cx="298.00" cy="369.70" r="1.45" fill="#000"/>
<circle cx="305.60" cy="370.00" r="1.45" fill="#000"/>
<circle cx="309.10" cy="370.00" r="1.45" fill="#000"/>
<circle cx="301.80" cy="372.20" r="1.45" fill="#000"/>
<circle cx="298.00" cy="374.30" r="1.45" fill="#000"/>
<circle cx="305.60" cy="374.60" r="1.45" fill="#000"/>
<circle cx="301.80" cy="377.30" r="1.45" fill="#000"/>
<circle cx="303.60" cy="380.50" r="1.45" fill="#000"/>
<circle cx="303.60" cy="393.60" r="1.45" fill="#000"/>
<circle cx="303.60" cy="397.10" r="1.45" fill="#000"/>
<circle cx="303.60" cy="410.30" r="1.45" fill="#000"/>
<circle cx="654.30" cy="303.90" r="1.45" fill="#000"/>
<circle cx="658.20" cy="306.60" r="1.45" fill="#000"/>
<circle cx="654.30" cy="310.00" r="1.45" fill="#000"/>
<circle cx="658.20" cy="309.70" r="1.45" fill="#000"/>
<circle cx="652.40" cy="319.10" r="1.45" fill="#000"/>
<circle cx="656.20" cy="317.80" r="1.45" fill="#000"/>
<circle cx="660.10" cy="318.20" r="1.45" fill="#000"/>
<circle cx="656.20" cy="325.40" r="1.45" fill="#000"/>
<circle cx="661.80" cy="334.10" r="1.45" fill="#000"/>
<circle cx="654.20" cy="336.10" r="1.45" fill="#000"/>
<circle cx="658.20" cy="335.80" r="1.45" fill="#000"/>
<circle cx="650.60" cy="338.70" r="1.45" fill="#000"/>
<circle cx="654.20" cy="339.50" r="1.45" fill="#000"/>
<circle cx="658.20" cy="338.90" r="1.45" fill="#000"/>
<circle cx="650.60" cy="341.90" r="1.45" fill="#000"/>
<circle cx="661.80" cy="341.50" r="1.45" fill="#000"/>
<circle cx="654.20" cy="343.20" r="1.45" fill="#000"/>
<circle cx="654.20" cy="346.00" r="1.45" fill="#000"/>
<circle cx="661.80" cy="346.60" r="1.45" fill="#000"/>
<circle cx="665.40" cy="346.00" r="1.45" fill="#000"/>
<circle cx="650.60" cy="347.40" r="1.45" fill="#000"/>
<circle cx="658.20" cy="348.00" r="1.45" fill="#000"/>
<circle cx="650.60" cy="350.90" r="1.45" fill="#000"/>
<circle cx="658.20" cy="350.90" r="1.45" fill="#000"/>
<circle cx="643.10" cy="354.30" r="1.45" fill="#000"/>
<circle cx="654.20" cy="353.10" r="1.45" fill="#000"/>
<circle cx="665.40" cy="354.50" r="1.45" fill="#000"/>
<circle cx="669.30" cy="355.40" r="1.45" fill="#000"/>
<circle cx="646.90" cy="356.80" r="1.45" fill="#000"/>
<circle cx="650.60" cy="355.50" r="1.45" fill="#000"/>
<circle cx="654.20" cy="357.10" r="1.45" fill="#000"/>
<circle cx="658.20" cy="354.90" r="1.45" fill="#000"/>
<circle cx="661.80" cy="356.20" r="1.45" fill="#000"/>
<circle cx="650.60" cy="358.90" r="1.45" fill="#000"/>
<circle cx="654.20" cy="360.00" r="1.45" fill="#000"/>
<circle cx="658.20" cy="358.10" r="1.45" fill="#000"/>
<circle cx="650.60" cy="362.80" r="1.45" fill="#000"/>
<circle cx="654.20" cy="363.20" r="1.45" fill="#000"/>
<circle cx="658.20" cy="361.90" r="1.45" fill="#000"/>
<circle cx="661.80" cy="361.90" r="1.45" fill="#000"/>
<circle cx="654.20" cy="366.50" r="1.45" fill="#000"/>
<circle cx="658.20" cy="368.30" r="1.45" fill="#000"/>
<circle cx="648.80" cy="372.00" r="1.45" fill="#000"/>
<circle cx="652.40" cy="372.00" r="1.45" fill="#000"/>
<circle cx="656.20" cy="371.30" r="1.45" fill="#000"/>
<circle cx="660.00" cy="372.80" r="1.45" fill="#000"/>
<circle cx="663.50" cy="372.80" r="1.45" fill="#000"/>
<circle cx="650.50" cy="376.60" r="1.45" fill="#000"/>
<circle cx="661.70" cy="376.80" r="1.45" fill="#000"/>
<circle cx="658.20" cy="378.80" r="1.45" fill="#000"/>
<circle cx="661.70" cy="381.00" r="1.45" fill="#000"/>
<circle cx="654.30" cy="382.80" r="1.45" fill="#000"/>
<circle cx="658.20" cy="382.30" r="1.45" fill="#000"/>
<circle cx="661.70" cy="384.10" r="1.45" fill="#000"/>
<circle cx="656.20" cy="393.40" r="1.45" fill="#000"/>
<line x1="626.70" y1="119.20" x2="654.30" y2="119.20" stroke="#000" stroke-width="1.8"/>
<line x1="289.50" y1="358.70" x2="318.00" y2="358.70" stroke="#000" stroke-width="1.8"/>
<line x1="642.30" y1="352.40" x2="670.80" y2="352.40" stroke="#000" stroke-width="1.8"/></svg>
</body></html>
